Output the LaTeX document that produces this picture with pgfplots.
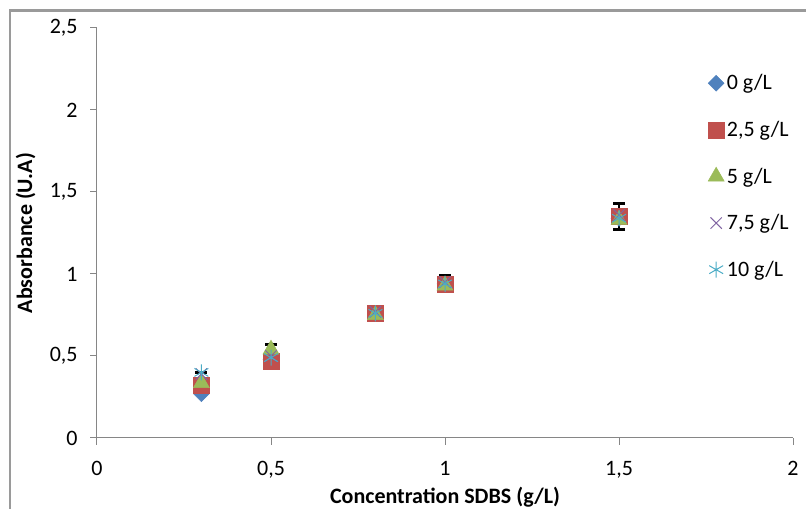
\documentclass[border=0pt]{standalone}
\usepackage{fontspec}
\setmainfont{Carlito}
\usepackage{pgfplots}
\pgfplotsset{compat=1.18}
\definecolor{cA}{HTML}{4F81BD}
\definecolor{cB}{HTML}{C0504D}
\definecolor{cC}{HTML}{9BBB59}
\definecolor{cD}{HTML}{8064A2}
\definecolor{cE}{HTML}{4BACC6}
\definecolor{axgray}{HTML}{868686}
\definecolor{framegray}{HTML}{9A9A9A}
\pgfplotsset{eb/.style={
  error bars/y dir=both, error bars/y explicit,
  error bars/error bar style={black, line width=0.9pt},
  error bars/error mark options={rotate=90, mark size=4.5pt, line width=2.4pt, black}}}
\begin{document}
\begin{tikzpicture}
\useasboundingbox (-72.75pt,-53.25pt) rectangle (531.75pt,328.5pt);
\draw[color=framegray,line width=1.8pt] (-65.25pt,-60pt) -- (-65.25pt,320.5pt) -- (540pt,320.5pt);
\begin{axis}[
  at={(0pt,0pt)}, anchor=south west,
  width=522pt, height=307.5pt, scale only axis,
  xmin=0, xmax=2, ymin=0, ymax=2.5,
  xtick={0,0.5,1,1.5,2}, ytick={0,0.5,1,1.5,2,2.5},
  axis lines=left, axis line style={-, color=axgray, line width=0.75pt},
  tick style={color=axgray, line width=0.75pt},
  tick align=outside, major tick length=5pt,
  /pgf/number format/assume math mode=true,
  /pgf/number format/use comma,
  tick label style={font=\fontsize{16.5}{19}\selectfont, color=black},
  xticklabel style={yshift=-9pt},
  yticklabel style={xshift=-6pt},
  xlabel={\textbf{Concentration SDBS (g/L)}},
  ylabel={\textbf{Absorbance (U.A)}},
  label style={font=\fontsize{16.5}{19}\selectfont},
  xlabel style={yshift=0pt},
  ylabel style={yshift=4pt},
  legend style={at={(0.872,0.90)}, anchor=north west, draw=none, fill=none,
    font=\fontsize{16.5}{19}\selectfont, row sep=18pt},
  legend cell align=left,
  clip=false,
]
\addplot[only marks, mark=square*, mark size=4.2pt, mark options={rotate=45, fill=cA, draw=cA}]
 table[x=x, y=y] {
x y
0.3 0.27
0.5 0.48
0.8 0.76
1.0 0.94
1.5 1.34
};
\addlegendentry{0 g/L}
\addplot[only marks, mark=square*, mark size=6pt, mark options={fill=cB, draw=cB}, eb]
 table[x=x, y=y, y error plus=ep, y error minus=em] {
x y ep em
0.3 0.32 0.08 0.02
0.5 0.47 0.10 0.02
0.8 0.76 0.02 0.02
1.0 0.94 0.05 0.02
1.5 1.35 0.08 0.08
};
\addlegendentry{2,5 g/L}
\addplot[only marks, mark=triangle*, mark size=6.9pt, mark options={fill=cC, draw=cC}]
 table[x=x, y=y] {
x y
0.3 0.335
0.5 0.54
0.8 0.75
1.0 0.93
1.5 1.33
};
\addlegendentry{5 g/L}
\addplot[only marks, mark=x, mark size=6pt, mark options={draw=cD, line width=0.75pt}]
 table[x=x, y=y] {
x y
0.3 0.39
0.5 0.50
0.8 0.77
1.0 0.95
1.5 1.36
};
\addlegendentry{7,5 g/L}
\addplot[only marks, mark=asterisk, mark size=6pt, mark options={draw=cE, line width=0.75pt}]
 table[x=x, y=y] {
x y
0.3 0.40
0.5 0.49
0.8 0.76
1.0 0.94
1.5 1.34
};
\addlegendentry{10 g/L}
\end{axis}
\end{tikzpicture}
\end{document}
